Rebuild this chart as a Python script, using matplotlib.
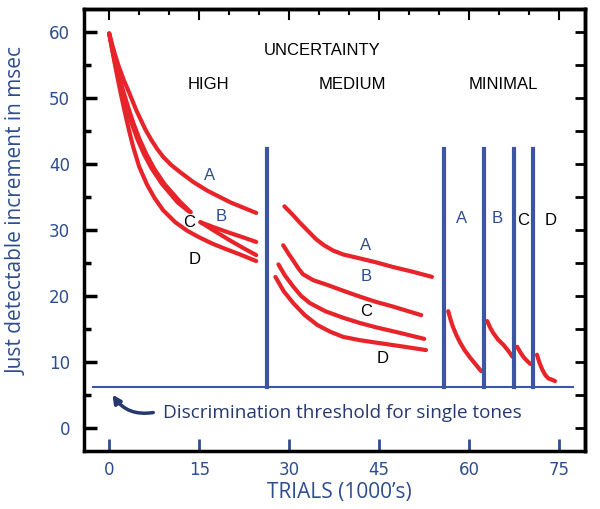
import matplotlib
matplotlib.use('Agg')
import matplotlib.pyplot as plt

RED = '#e8242b'
BLUE = '#3c56a5'
TXT_BLUE = '#2d4d8e'
NAVY = '#26386e'

# high uncertainty curves (x in 1000's of trials, y in msec)
high_a_x = [0, 0.5, 1, 1.6, 2.4, 3.3, 4.5, 6, 7, 8, 9, 10.3, 11.8, 14, 16.3, 20.2, 24.5]
high_a_y = [59.8, 58.1, 56.5, 54.8, 52.8, 50.9, 48.2, 45.3, 43.7, 42.3, 41.1, 39.9, 38.8, 37.3, 36, 34.2, 32.6]
high_b_x = [0, 0.5, 1, 1.6, 2.3, 3.1, 4, 5, 6.2, 7.5, 9.2, 11.8, 13.6]
high_b_y = [59.8, 57.7, 55.7, 53.5, 51.2, 48.8, 46.3, 43.9, 41.5, 39.3, 37, 34.3, 32.7]
high_b2_x = [15.2, 17.5, 20, 22.3, 24.5]
high_b2_y = [31.2, 30.4, 29.6, 28.9, 28.2]
high_c_x = [0, 0.45, 0.9, 1.45, 2.1, 2.85, 3.7, 4.65, 5.8, 7.1, 8.8, 11.4, 13.3]
high_c_y = [59.8, 57.7, 55.7, 53.5, 51.2, 48.8, 46.3, 43.9, 41.5, 39.3, 37, 34.2, 32.8]
high_c2_x = [15.2, 17.5, 20, 22.3, 24.5]
high_c2_y = [31.2, 29.9, 28.5, 27.3, 26.2]
high_d_x = [0, 0.5, 1, 1.5, 2, 2.5, 3, 3.5, 4, 5, 6.3, 7.6, 9, 11, 13, 15, 17.3, 19.5, 21.8, 24.5]
high_d_y = [59.8, 57.3, 54.9, 52.6, 50.4, 48.3, 46.3, 44.4, 42.6, 39.6, 36.9, 34.8, 33, 31.2, 29.9, 28.9, 27.9, 27.1, 26.3, 25.3]

# medium uncertainty curves
med_a_x = [29.2, 30.5, 31.8, 33.2, 34.5, 35.8, 37.3, 39, 41.8, 44.5, 47.3, 50.5, 53.8]
med_a_y = [33.6, 32.4, 31.1, 29.8, 28.6, 27.7, 26.9, 26.3, 25.7, 25.1, 24.4, 23.7, 22.9]
med_b_x = [29, 29.9, 30.8, 31.6, 32.3, 34, 36.3, 39, 41.8, 44.5, 47.3, 52]
med_b_y = [27.7, 26.4, 25.2, 24.1, 23.3, 22.4, 21.7, 20.8, 19.9, 19.1, 18.4, 17.1]
med_c_x = [28.2, 29.3, 30.7, 32, 33.5, 36, 39, 41.8, 44.7, 48.5, 52.5]
med_c_y = [24.8, 23.1, 21.4, 20, 18.9, 17.7, 16.7, 15.9, 15.2, 14.4, 13.5]
med_d_x = [27.7, 29.1, 30.7, 32.6, 34.7, 36.8, 39, 41.8, 44.7, 48.5, 52.8]
med_d_y = [22.9, 20.7, 18.9, 17.1, 15.6, 14.6, 13.8, 13.3, 12.9, 12.4, 11.8]

# minimal uncertainty segments
min_1_x = [56.5, 56.9, 57.3, 57.9, 58.5, 59.3, 60.2, 61.1, 62]
min_1_y = [17.7, 16.4, 15.3, 14, 12.9, 11.7, 10.6, 9.6, 8.6]
min_2_x = [63, 63.5, 64, 64.8, 65.7, 66.5, 67.2]
min_2_y = [16.2, 15.2, 14.4, 13.4, 12.6, 11.7, 10.8]
min_3_x = [68, 68.5, 69, 69.6, 70.2]
min_3_y = [12.3, 11.5, 10.8, 10.2, 9.7]
min_4_x = [71.3, 71.7, 72.2, 72.7, 73.2, 73.8, 74.3]
min_4_y = [11.1, 9.9, 8.8, 8, 7.5, 7.3, 7.1]

# vertical dividers and threshold
dividers = [26.3, 55.8, 62.5, 67.5, 70.7]
divider_top = 42.3
threshold = 6.2

curve_labels = [
    ('A', 16.8, 38.3, TXT_BLUE), ('B', 18.7, 32.1, TXT_BLUE),
    ('C', 13.3, 31.1, 'black'), ('D', 14.2, 25.6, 'black'),
    ('A', 42.7, 27.7, TXT_BLUE), ('B', 42.8, 22.9, TXT_BLUE),
    ('C', 42.8, 17.7, 'black'), ('D', 45.5, 10.5, 'black'),
    ('A', 58.7, 31.7, TXT_BLUE), ('B', 64.7, 31.7, TXT_BLUE),
    ('C', 69.0, 31.4, 'black'), ('D', 73.5, 31.4, 'black'),
]

fig = plt.figure(figsize=(6, 5.09), dpi=100)
ax = fig.add_axes([0.14, 0.114, 0.835, 0.868])

curves = [(high_a_x, high_a_y), (high_b_x, high_b_y), (high_b2_x, high_b2_y),
          (high_c_x, high_c_y), (high_c2_x, high_c2_y), (high_d_x, high_d_y),
          (med_a_x, med_a_y), (med_b_x, med_b_y), (med_c_x, med_c_y), (med_d_x, med_d_y),
          (min_1_x, min_1_y), (min_2_x, min_2_y), (min_3_x, min_3_y), (min_4_x, min_4_y)]
for cx, cy in curves:
    ax.plot(cx, cy, color=RED, lw=3, solid_capstyle='round', solid_joinstyle='round')

for d in dividers:
    ax.plot([d, d], [threshold, divider_top], color=BLUE, lw=3)
ax.plot([-2.7, 77.3], [threshold, threshold], color=BLUE, lw=1.5)

for t, x, y, c in curve_labels:
    ax.text(x, y, t, color=c, fontsize=12, ha='center', va='center', family='Liberation Sans')

ax.text(35.5, 57.3, 'UNCERTAINTY', fontsize=12, ha='center', va='center', family='Liberation Sans')
ax.text(16.5, 52, 'HIGH', fontsize=12, ha='center', va='center', family='Liberation Sans')
ax.text(40.5, 52, 'MEDIUM', fontsize=12, ha='center', va='center', family='Liberation Sans')
ax.text(65.7, 52, 'MINIMAL', fontsize=12, ha='center', va='center', family='Liberation Sans')

ax.annotate('', xy=(0.3, 5.4), xytext=(7.8, 2.4),
            arrowprops=dict(arrowstyle='-|>', color=NAVY, lw=2.5,
                            connectionstyle='arc3,rad=-0.35', mutation_scale=12))
ax.text(9.0, 2.3, 'Discrimination threshold for single tones', color=NAVY,
        fontsize=13.6, ha='left', va='center', family='Open Sans')

ax.set_xlim(-4.2, 79.3)
ax.set_ylim(-3.5, 63.5)

ax.set_xticks([0, 15, 30, 45, 60, 75])
ax.set_yticks([0, 10, 20, 30, 40, 50, 60])
ax.set_yticks([5, 15, 25, 35, 45, 55], minor=True)
ax.tick_params(axis='x', direction='in', length=9, width=2, color=TXT_BLUE,
               labelcolor=TXT_BLUE, labelsize=12, pad=7)
ax.tick_params(axis='y', which='major', direction='in', length=9, width=2.5,
               labelcolor=TXT_BLUE, labelsize=12, pad=10)
ax.tick_params(axis='y', which='minor', direction='in', length=5, width=2.5)
ax.get_xticklines()[0].set_color('black')
for lab in ax.get_xticklabels() + ax.get_yticklabels():
    lab.set_family('DejaVu Sans')

# top and right ticks
top = ax.secondary_xaxis('top')
top.set_xticks([0, 15, 30, 45, 60, 75])
top.set_xticks([5, 10, 20, 25, 35, 40, 50, 55, 65, 70], minor=True)
top.tick_params(which='major', direction='in', length=8, width=1.5, labeltop=False)
top.tick_params(which='minor', direction='in', length=4, width=1.5)
top.spines['top'].set_linewidth(2.5)
right = ax.secondary_yaxis('right')
right.set_yticks(list(range(0, 65, 5)))
right.tick_params(direction='in', length=7, width=2, labelright=False)
right.spines['right'].set_linewidth(2.5)

for s in ax.spines.values():
    s.set_linewidth(2.5)

ax.set_xlabel('TRIALS (1000\u2019s)', color=TXT_BLUE, fontsize=15, family='Open Sans')
ax.set_ylabel('Just detectable increment in msec', color=TXT_BLUE, fontsize=15,
              family='Open Sans')
ax.xaxis.set_label_coords(0.509, -0.07)
ax.yaxis.set_label_coords(-0.112, 0.543)

fig.savefig('out.png', dpi=100)
